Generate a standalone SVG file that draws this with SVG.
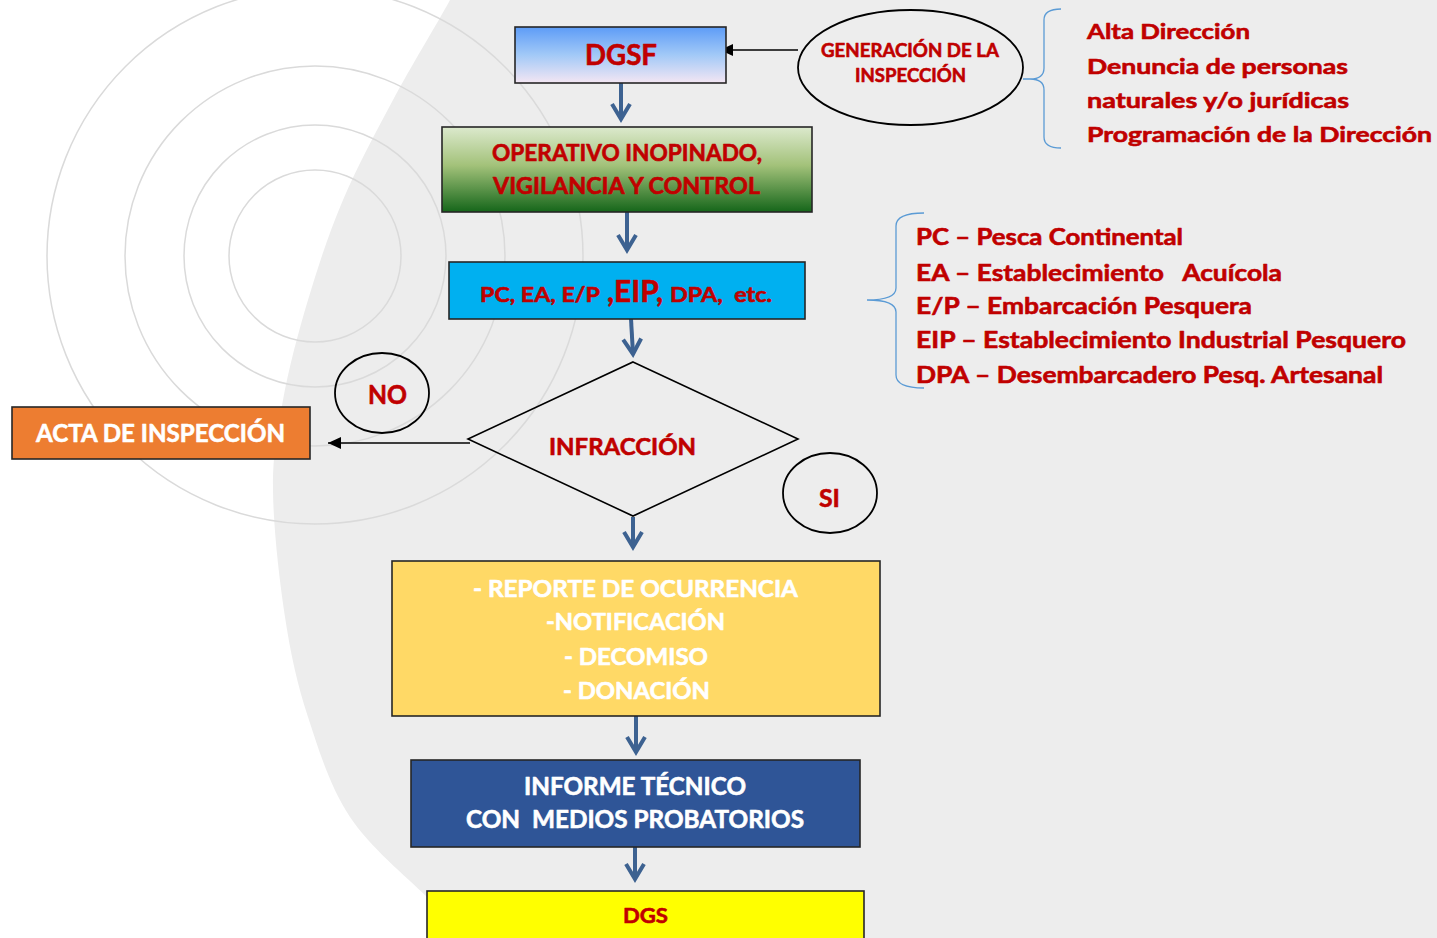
<svg xmlns="http://www.w3.org/2000/svg" width="1437" height="938" viewBox="0 0 1437 938">
<style>
.t{font-family:Lato,"Liberation Sans",sans-serif;font-weight:700;stroke-width:0.6;stroke-linejoin:round}
.red{fill:#c00000;stroke:#c00000}
.wh{fill:#ffffff;stroke:#ffffff}
.box{stroke:#262626;stroke-width:1.6}
.ring{fill:none;stroke:#dadada;stroke-width:1.5}
.flow{fill:none;stroke:#3d6291;stroke-width:4;marker-end:url(#chev)}
.blk{fill:none;stroke:#000;stroke-width:1.5;marker-end:url(#tri)}
.brace{fill:none;stroke:#5b9bd5;stroke-width:1.3}
.outl{fill:none;stroke:#000;stroke-width:1.8}
</style>
<defs>
<linearGradient id="gBlue" x1="0" y1="0" x2="0" y2="1">
<stop offset="0" stop-color="#5d9cf7"/>
<stop offset="0.5" stop-color="#a2c9f7"/>
<stop offset="1" stop-color="#f4e6f3"/>
</linearGradient>
<linearGradient id="gGreen" x1="0" y1="0" x2="0" y2="1">
<stop offset="0" stop-color="#dce9cd"/>
<stop offset="0.45" stop-color="#a3c27a"/>
<stop offset="1" stop-color="#15661a"/>
</linearGradient>
<marker id="chev" viewBox="-20 -12 24 24" markerWidth="24" markerHeight="24" refX="0" refY="0" orient="auto" markerUnits="userSpaceOnUse">
<path d="M-15,-9 L0,0 L-15,9" fill="none" stroke="#3d6291" stroke-width="4" stroke-linejoin="miter"/>
</marker>
<marker id="tri" viewBox="-15 -8 17 16" markerWidth="17" markerHeight="16" refX="0" refY="0" orient="auto" markerUnits="userSpaceOnUse">
<path d="M-13,-6 L0,0 L-13,6 Z" fill="#000"/>
</marker>
</defs>

<g id="background">
<rect x="0" y="0" width="1437" height="938" fill="#ffffff"/>
<path d="M450,0 C435.5,26.7 410.8,66.7 393,100 C375.2,133.3 357.2,166.7 343,200 C328.8,233.3 318,266.7 308,300 C298,333.3 288.8,368.3 283,400 C277.2,431.7 272.7,453.8 273,490 C273.3,526.2 279.2,579.2 285,617 C290.8,654.8 297.2,683.7 308,717 C318.8,750.3 330.2,787 350,817 C369.8,847 406.2,876.5 427,897 C447.8,917.5 459.5,926.2 475,940 L1437,940 L1437,0 Z" fill="#ededed"/>
<circle class="ring" cx="315" cy="256" r="86"/>
<circle class="ring" cx="315" cy="256" r="131"/>
<circle class="ring" cx="315" cy="256" r="190"/>
<circle class="ring" cx="315" cy="256" r="268"/>
</g>

<g id="connectors">
<path class="blk" d="M798,50 L720,50"/>
<path class="flow" d="M621,83 L621,119"/>
<path class="flow" d="M627,212 L627,250"/>
<path class="flow" d="M631,319 L633,354"/>
<path class="blk" d="M470,443 L328,443"/>
<path class="flow" d="M633,517 L633,547"/>
<path class="flow" d="M636,716 L636,752"/>
<path class="flow" d="M635,847 L635,879"/>
<path class="brace" d="M1023,79 L1030,79 Q1044,79 1044,90 L1044,137 Q1044,148 1061,148 M1030,79 Q1044,79 1044,68 L1044,20 Q1044,9 1061,9"/>
<path class="brace" d="M867,300 Q896,300 896,312 L896,375 Q896,388 924,388 M867,300 Q896,300 896,288 L896,226 Q896,213 924,213"/>
</g>

<g id="node-dgsf">
<rect class="box" x="515" y="27" width="211" height="56" fill="url(#gBlue)"/>
<text class="t red" x="585" y="65" font-size="28" textLength="72" lengthAdjust="spacingAndGlyphs">DGSF</text>
</g>

<g id="node-generacion">
<ellipse class="outl" cx="910.5" cy="67.5" rx="112.5" ry="57.5"/>
<text class="t red" x="821" y="57" font-size="18.5" textLength="178" lengthAdjust="spacingAndGlyphs">GENERACIÓN DE LA</text>
<text class="t red" x="855" y="82" font-size="18.5" textLength="111" lengthAdjust="spacingAndGlyphs">INSPECCIÓN</text>
</g>

<g id="node-origenes">
<text class="t red" x="1087" y="39" font-size="21.5" textLength="163" lengthAdjust="spacingAndGlyphs">Alta Dirección</text>
<text class="t red" x="1087" y="74" font-size="21.5" textLength="261" lengthAdjust="spacingAndGlyphs">Denuncia de personas</text>
<text class="t red" x="1087" y="108" font-size="21.5" textLength="262" lengthAdjust="spacingAndGlyphs">naturales y/o jurídicas</text>
<text class="t red" x="1087" y="142" font-size="21.5" textLength="345" lengthAdjust="spacingAndGlyphs">Programación de la Dirección</text>
</g>

<g id="node-operativo">
<rect class="box" x="442" y="127" width="370" height="85" fill="url(#gGreen)"/>
<text class="t red" x="492" y="161" font-size="22" textLength="270" lengthAdjust="spacingAndGlyphs">OPERATIVO INOPINADO,</text>
<text class="t red" x="493" y="194" font-size="22" textLength="267" lengthAdjust="spacingAndGlyphs">VIGILANCIA Y CONTROL</text>
</g>

<g id="node-establecimientos">
<rect class="box" x="449" y="262" width="356" height="57" fill="#00b0f0"/>
<text class="t red" x="480" y="302" font-size="21" textLength="120" lengthAdjust="spacingAndGlyphs">PC, EA, E/P</text>
<text class="t red" x="607" y="302" font-size="31" textLength="56" lengthAdjust="spacingAndGlyphs">,EIP,</text>
<text class="t red" x="670" y="302" font-size="21" textLength="102" lengthAdjust="spacingAndGlyphs" xml:space="preserve">DPA,  etc.</text>
</g>

<g id="node-siglas">
<text class="t red" x="916" y="245" font-size="22.5" textLength="267" lengthAdjust="spacingAndGlyphs">PC – Pesca Continental</text>
<text class="t red" x="916" y="281" font-size="22.5" textLength="366" lengthAdjust="spacingAndGlyphs" xml:space="preserve">EA – Establecimiento   Acuícola</text>
<text class="t red" x="916" y="314" font-size="22.5" textLength="336" lengthAdjust="spacingAndGlyphs">E/P – Embarcación Pesquera</text>
<text class="t red" x="916" y="348" font-size="22.5" textLength="490" lengthAdjust="spacingAndGlyphs">EIP – Establecimiento Industrial Pesquero</text>
<text class="t red" x="916" y="383" font-size="22.5" textLength="467" lengthAdjust="spacingAndGlyphs">DPA – Desembarcadero Pesq. Artesanal</text>
</g>

<g id="node-infraccion">
<polygon class="outl" points="633,362 798,439 633,516 468,439" style="stroke-width:1.6"/>
<text class="t red" x="549" y="455" font-size="23.5" textLength="147" lengthAdjust="spacingAndGlyphs">INFRACCIÓN</text>
</g>

<g id="node-no">
<ellipse class="outl" cx="382" cy="393" rx="47" ry="40"/>
<text class="t red" x="368" y="404" font-size="26" textLength="39" lengthAdjust="spacingAndGlyphs">NO</text>
</g>

<g id="node-si">
<ellipse class="outl" cx="830" cy="493" rx="47" ry="40"/>
<text class="t red" x="819" y="507" font-size="25" textLength="21" lengthAdjust="spacingAndGlyphs">SI</text>
</g>

<g id="node-acta">
<rect class="box" x="12" y="407" width="298" height="52" fill="#ed7d31"/>
<text class="t wh" x="36" y="442" font-size="25" textLength="249" lengthAdjust="spacingAndGlyphs">ACTA DE INSPECCIÓN</text>
</g>

<g id="node-reporte">
<rect class="box" x="392" y="561" width="488" height="155" fill="#ffd966"/>
<text class="t wh" x="473" y="597" font-size="23.5" textLength="325" lengthAdjust="spacingAndGlyphs">- REPORTE DE OCURRENCIA</text>
<text class="t wh" x="546" y="630" font-size="23.5" textLength="179" lengthAdjust="spacingAndGlyphs">-NOTIFICACIÓN</text>
<text class="t wh" x="564" y="665" font-size="23.5" textLength="144" lengthAdjust="spacingAndGlyphs">- DECOMISO</text>
<text class="t wh" x="563" y="699" font-size="23.5" textLength="147" lengthAdjust="spacingAndGlyphs">- DONACIÓN</text>
</g>

<g id="node-informe">
<rect class="box" x="411" y="760" width="449" height="87" fill="#2f5597"/>
<text class="t wh" x="524" y="795" font-size="24.5" textLength="222" lengthAdjust="spacingAndGlyphs">INFORME TÉCNICO</text>
<text class="t wh" x="466" y="828" font-size="24.5" textLength="338" lengthAdjust="spacingAndGlyphs" xml:space="preserve">CON  MEDIOS PROBATORIOS</text>
</g>

<g id="node-dgs">
<rect class="box" x="427" y="891" width="437" height="52" fill="#ffff00"/>
<text class="t red" x="623" y="923" font-size="21" textLength="45" lengthAdjust="spacingAndGlyphs">DGS</text>
</g>
</svg>
